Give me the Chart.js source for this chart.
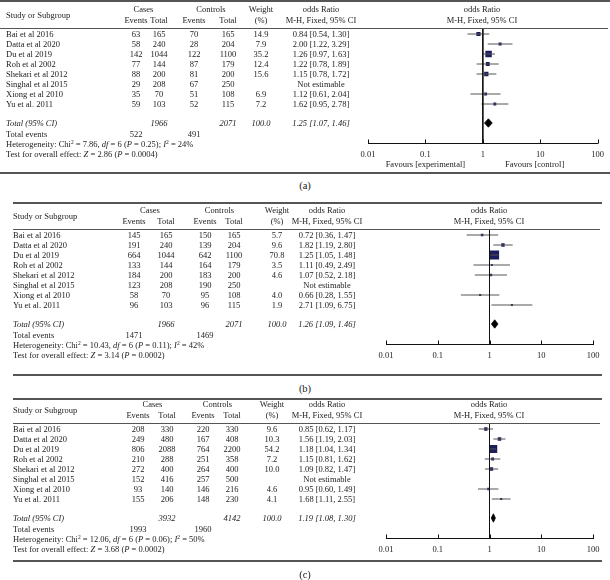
<!DOCTYPE html>
<html>
<head>
<meta charset="utf-8">
<script src="https://cdn.jsdelivr.net/npm/chart.js@4.4.1/dist/chart.umd.min.js"></script>
<style>
  body { margin: 0; background: #fff; }
  #page { position: relative; width: 610px; height: 580px; overflow: hidden; background: #fff;
          font-family: "Liberation Serif", "DejaVu Serif", serif; font-size: 8.5px; color: #222; }
  .wrap { position: absolute; left: 0; width: 610px; }
  .t { position: absolute; white-space: nowrap; line-height: 10px; transform: translateY(-50%); }
  .t.c { transform: translate(-50%, -50%); }
  .t.it { font-style: italic; }
  .t.lab { font-size: 10.5px; line-height: 12px; }
  .rule { position: absolute; background: #555; }
  sup { font-size: 5.5px; line-height: 0; vertical-align: 3px; }
</style>
</head>
<body>
<div id="page"></div>
<script>
const studies = ["Bai et al 2016", "Datta et al 2020", "Du et al 2019", "Roh et al 2002",
                 "Shekari et al 2012", "Singhal et al 2015", "Xiong et al 2010", "Yu et al. 2011"];
const tickValues = [0.01, 0.1, 1, 10, 100];
const tickLabels = ["0.01", "0.1", "1", "10", "100"];

// panel (a)
const casesEventsA = [63, 58, 142, 77, 88, 29, 35, 59];
const casesTotalA = [165, 240, 1044, 144, 200, 208, 70, 103];
const ctrlEventsA = [70, 28, 122, 87, 81, 67, 51, 52];
const ctrlTotalA = [165, 204, 1100, 179, 200, 250, 108, 115];
const weightA = [14.9, 7.9, 35.2, 12.4, 15.6, null, 6.9, 7.2];
const orA = [0.84, 2.00, 1.26, 1.22, 1.15, null, 1.12, 1.62];
const loA = [0.54, 1.22, 0.97, 0.78, 0.78, null, 0.61, 0.95];
const hiA = [1.30, 3.29, 1.63, 1.89, 1.72, null, 2.04, 2.78];

// panel (b)
const casesEventsB = [145, 191, 664, 133, 184, 123, 58, 96];
const casesTotalB = [165, 240, 1044, 144, 200, 208, 70, 103];
const ctrlEventsB = [150, 139, 642, 164, 183, 190, 95, 96];
const ctrlTotalB = [165, 204, 1100, 179, 200, 250, 108, 115];
const weightB = [5.7, 9.6, 70.8, 3.5, 4.6, null, 4.0, 1.9];
const orB = [0.72, 1.82, 1.25, 1.11, 1.07, null, 0.66, 2.71];
const loB = [0.36, 1.19, 1.05, 0.49, 0.52, null, 0.28, 1.09];
const hiB = [1.47, 2.80, 1.48, 2.49, 2.18, null, 1.55, 6.75];

// panel (c)
const casesEventsC = [208, 249, 806, 210, 272, 152, 93, 155];
const casesTotalC = [330, 480, 2088, 288, 400, 416, 140, 206];
const ctrlEventsC = [220, 167, 764, 251, 264, 257, 146, 148];
const ctrlTotalC = [330, 408, 2200, 358, 400, 500, 216, 230];
const weightC = [9.6, 10.3, 54.2, 7.2, 10.0, null, 4.6, 4.1];
const orC = [0.85, 1.56, 1.18, 1.15, 1.09, null, 0.95, 1.68];
const loC = [0.62, 1.19, 1.04, 0.81, 0.82, null, 0.60, 1.11];
const hiC = [1.17, 2.03, 1.34, 1.62, 1.47, null, 1.49, 2.55];

// pooled results, one entry per panel (a, b, c)
const sumCasesTotal = [1966, 1966, 3932];
const sumCtrlTotal = [2071, 2071, 4142];
const sumCasesEvents = [522, 1471, 1993];
const sumCtrlEvents = [491, 1469, 1960];
const totalOR = [1.25, 1.26, 1.19];
const totalLo = [1.07, 1.09, 1.08];
const totalHi = [1.46, 1.46, 1.30];
const chiSq = ["7.86", "10.43", "12.06"];
const hetDf = [6, 6, 6];
const hetP = ["0.25", "0.11", "0.06"];
const iSq = [24, 42, 50];
const zVal = ["2.86", "3.14", "3.68"];
const zP = ["0.0004", "0.0002", "0.0002"];

const page = document.getElementById("page");
const font = "'Liberation Serif', 'DejaVu Serif', serif";

function addText(html, x, y, cls) {
  const d = document.createElement("div");
  d.className = "t " + (cls || "");
  d.style.left = x + "px";
  d.style.top = y + "px";
  d.innerHTML = html;
  page.appendChild(d);
}

function addRule(x0, x1, y, h) {
  const d = document.createElement("div");
  d.className = "rule";
  d.style.left = x0 + "px";
  d.style.width = (x1 - x0) + "px";
  d.style.top = (y - h / 2) + "px";
  d.style.height = h + "px";
  page.appendChild(d);
}

// small tick marks pointing up from the axis line
const upTicks = {
  id: "upTicks",
  afterDraw(chart) {
    const { ctx, chartArea } = chart;
    const x = chart.scales.x;
    ctx.save();
    ctx.strokeStyle = "#111";
    ctx.lineWidth = 1;
    tickValues.forEach(v => {
      const px = Math.round(x.getPixelForValue(v)) + 0.5;
      ctx.beginPath();
      ctx.moveTo(px, chartArea.bottom);
      ctx.lineTo(px, chartArea.bottom - 4);
      ctx.stroke();
    });
    ctx.restore();
  }
};

const headerRow = -0.6;
const axisRow = 10.95;
const rowPx = 10;
const axisH = 8.5 * 1.2 + 12;

const panels = [
  { name: "(a)", k: 0, top: 1, header: 28, bottom: 173, x0: 0, x1: 610, plotL: 368, plotR: 603,
    cols: [136, 159, 194, 228, 261], orCol: 321, orHead: 482, nameX: 6, labelY: 186, favours: true,
    ce: casesEventsA, ct: casesTotalA, ke: ctrlEventsA, kt: ctrlTotalA, w: weightA, or: orA, lo: loA, hi: hiA },
  { name: "(b)", k: 1, top: 203, header: 229, bottom: 375, x0: 13, x1: 602, plotL: 386, plotR: 593,
    cols: [134, 166, 205, 234, 277], orCol: 327, orHead: 489, nameX: 13, labelY: 389, favours: false,
    ce: casesEventsB, ct: casesTotalB, ke: ctrlEventsB, kt: ctrlTotalB, w: weightB, or: orB, lo: loB, hi: hiB },
  { name: "(c)", k: 2, top: 399, header: 423, bottom: 561, x0: 13, x1: 602, plotL: 386, plotR: 593,
    cols: [138, 167, 203, 232, 272], orCol: 327, orHead: 489, nameX: 13, labelY: 575, favours: false,
    ce: casesEventsC, ct: casesTotalC, ke: ctrlEventsC, kt: ctrlTotalC, w: weightC, or: orC, lo: loC, hi: hiC }
];

panels.forEach(p => {
  const k = p.k;
  const wrap = document.createElement("div");
  wrap.className = "wrap";
  wrap.style.top = p.top + "px";
  wrap.style.height = (p.bottom - p.top) + "px";
  const canvas = document.createElement("canvas");
  wrap.appendChild(canvas);
  page.appendChild(wrap);

  const padTop = p.header - p.top;
  const areaH = (axisRow - headerRow) * rowPx;
  const padBottom = (p.bottom - p.top) - padTop - areaH - axisH;

  const datasets = [];
  // line of no effect
  datasets.push({ data: [{ x: 1, y: headerRow }, { x: 1, y: axisRow }], showLine: true,
                  borderColor: "#111", borderWidth: 1, pointRadius: 0 });
  // confidence intervals
  const pts = [], radii = [];
  p.or.forEach((v, i) => {
    if (v == null) return;
    datasets.push({ data: [{ x: p.lo[i], y: i }, { x: p.hi[i], y: i }], showLine: true,
                    borderColor: "#555", borderWidth: 1, pointRadius: 0 });
    pts.push({ x: v, y: i });
    radii.push(Math.max(1.5, Math.sqrt(p.w[i]) * 0.77));
  });
  // study squares
  datasets.push({ data: pts, pointStyle: "rect", pointRadius: radii, pointHoverRadius: radii,
                  backgroundColor: "#1b1d5c", borderWidth: 0 });
  // pooled diamond
  const tr = 8.9;
  datasets.push({ data: [{ x: totalLo[k], y: tr }, { x: totalOR[k], y: tr - 0.42 }, { x: totalHi[k], y: tr },
                         { x: totalOR[k], y: tr + 0.42 }, { x: totalLo[k], y: tr }],
                  showLine: true, fill: "shape", backgroundColor: "#000", borderColor: "#000",
                  borderWidth: 0.8, pointRadius: 0, tension: 0 });

  const chart = new Chart(canvas, {
    type: "scatter",
    data: { datasets },
    options: {
      responsive: true,
      maintainAspectRatio: false,
      animation: false,
      layout: { padding: { left: p.plotL, right: 610 - p.plotR, top: padTop, bottom: padBottom } },
      plugins: { legend: { display: false }, tooltip: { enabled: false } },
      scales: {
        x: {
          type: "logarithmic", min: 0.01, max: 100,
          afterBuildTicks: s => { s.ticks = tickValues.map(v => ({ value: v })); },
          ticks: { callback: v => tickLabels[tickValues.indexOf(v)], autoSkip: false, maxRotation: 0,
                   padding: 6, color: "#222", font: { family: font, size: 8.5 } },
          grid: { display: false, drawTicks: false },
          border: { display: true, color: "#111", width: 1 }
        },
        y: { type: "linear", min: headerRow, max: axisRow, reverse: true, display: false }
      }
    },
    plugins: [upTicks]
  });

  const ys = r => p.top + chart.scales.y.getPixelForValue(r);
  const xs = v => chart.scales.x.getPixelForValue(v);

  // rules
  addRule(p.x0, p.x1, p.top, 1.6);
  addRule(p.x0, p.x1 - 2, p.header, 1);
  addRule(p.x0, p.x1, p.bottom, 1.6);

  // header
  const c = p.cols;
  addText("Study or Subgroup", p.nameX, ys(-1.9));
  addText("Cases", (c[0] + c[1]) / 2 + (k === 0 ? -4 : 0), ys(-2.5), "c");
  addText("Controls", (c[2] + c[3]) / 2, ys(-2.5), "c");
  addText("Weight", c[4], ys(-2.5), "c");
  addText("odds Ratio", p.orCol, ys(-2.5), "c");
  addText("odds Ratio", p.orHead, ys(-2.5), "c");
  addText("Events", c[0], ys(-1.4), "c");
  addText("Total", c[1], ys(-1.4), "c");
  addText("Events", c[2], ys(-1.4), "c");
  addText("Total", c[3], ys(-1.4), "c");
  addText("(%)", c[4], ys(-1.4), "c");
  addText("M-H, Fixed, 95% CI", p.orCol, ys(-1.4), "c");
  addText("M-H, Fixed, 95% CI", p.orHead, ys(-1.4), "c");

  // study rows
  studies.forEach((s, i) => {
    const y = ys(i);
    addText(s, p.nameX, y);
    addText(p.ce[i], c[0], y, "c");
    addText(p.ct[i], c[1], y, "c");
    addText(p.ke[i], c[2], y, "c");
    addText(p.kt[i], c[3], y, "c");
    if (p.w[i] != null) addText(p.w[i].toFixed(1), c[4], y, "c");
    const orTxt = p.or[i] == null ? "Not estimable"
      : p.or[i].toFixed(2) + " [" + p.lo[i].toFixed(2) + ", " + p.hi[i].toFixed(2) + "]";
    addText(orTxt, p.orCol, y, "c");
  });

  // totals
  addText("Total (95% CI)", p.nameX, ys(8.9), "it");
  addText(sumCasesTotal[k], c[1], ys(8.9), "c it");
  addText(sumCtrlTotal[k], c[3], ys(8.9), "c it");
  addText("100.0", c[4], ys(8.9), "c it");
  addText(totalOR[k].toFixed(2) + " [" + totalLo[k].toFixed(2) + ", " + totalHi[k].toFixed(2) + "]",
          p.orCol, ys(8.9), "c it");
  addText("Total events", p.nameX, ys(9.95));
  addText(sumCasesEvents[k], c[0], ys(9.95), "c");
  addText(sumCtrlEvents[k], c[2], ys(9.95), "c");
  addText("Heterogeneity: Chi<sup>2</sup> = " + chiSq[k] + ", <i>df</i> = " + hetDf[k] +
          " (<i>P</i> = " + hetP[k] + "); <i>I</i><sup>2</sup> = " + iSq[k] + "%", p.nameX, ys(10.95));
  addText("Test for overall effect: <i>Z</i> = " + zVal[k] + " (<i>P</i> = " + zP[k] + ")",
          p.nameX, ys(11.95));

  if (p.favours) {
    addText("Favours [experimental]", xs(0.1), ys(13.0), "c");
    addText("Favours [control]", xs(8), ys(13.0), "c");
  }
  addText(p.name, 305, p.labelY, "c lab");
});
</script>
</body>
</html>
